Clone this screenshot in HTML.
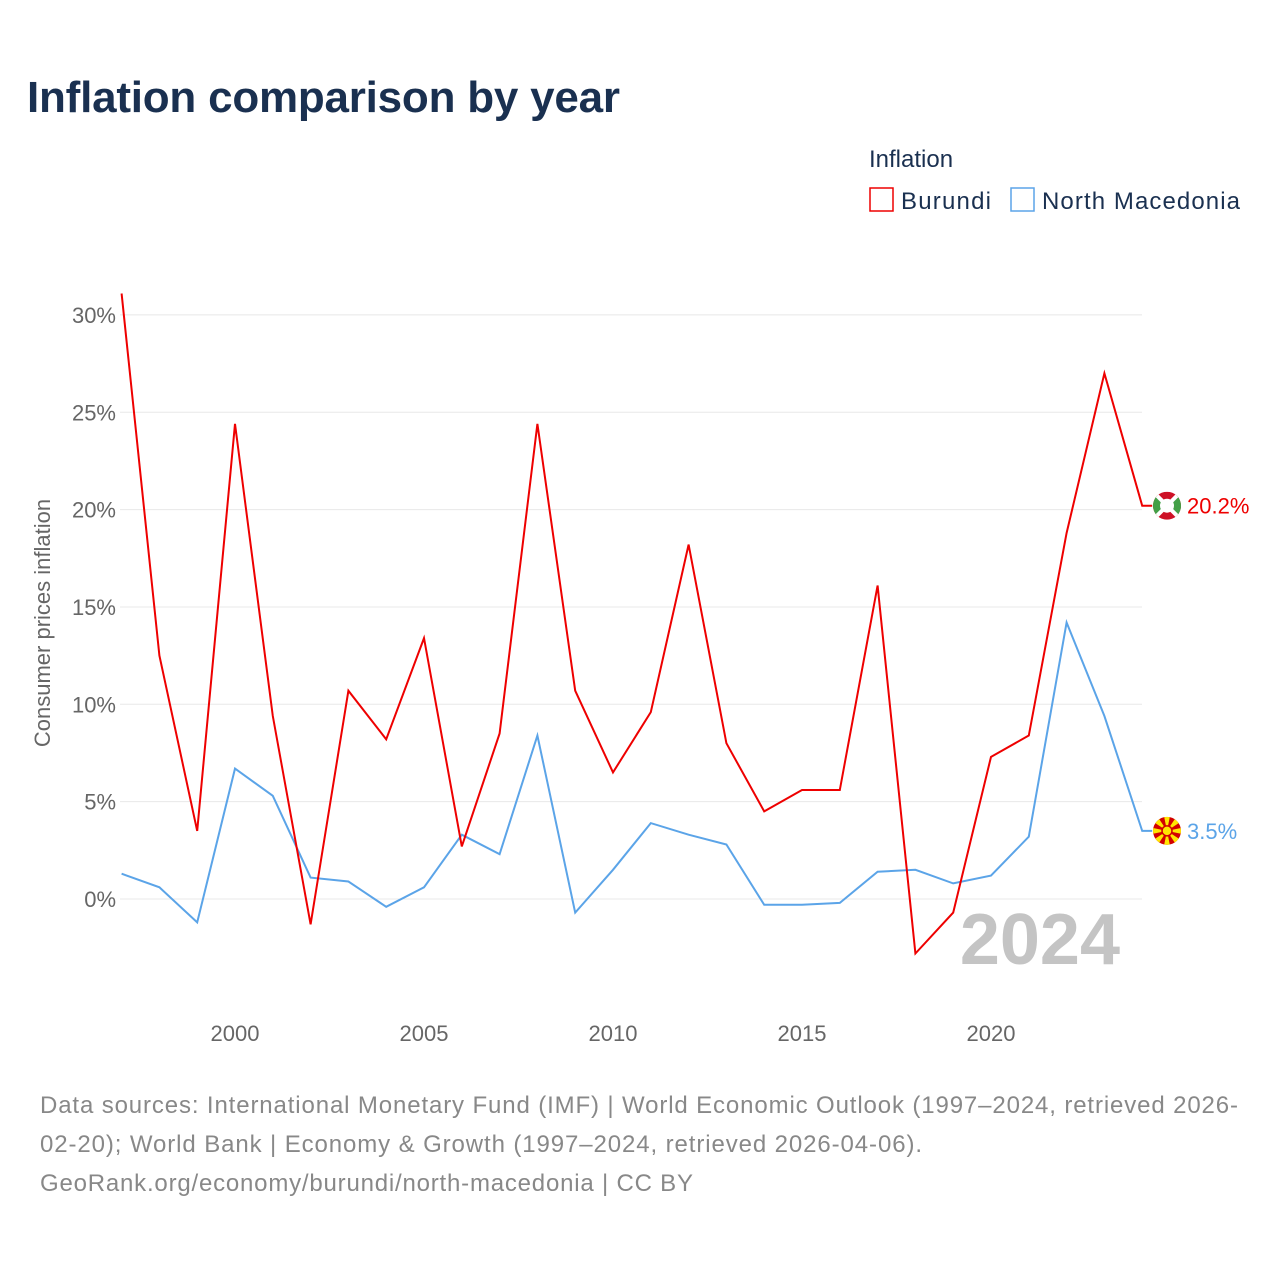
<!DOCTYPE html>
<html><head><meta charset="utf-8"><style>
body{margin:0;background:#fff;font-family:"Liberation Sans",sans-serif}
</style></head><body>
<svg width="1280" height="1280" xmlns="http://www.w3.org/2000/svg" font-family="Liberation Sans, sans-serif">
<text x="27" y="112" font-size="44" font-weight="bold" fill="#1a3050" textLength="593">Inflation comparison by year</text>
<text x="869" y="167" font-size="24" fill="#1a3050">Inflation</text>
<g><rect x="870" y="188" width="23" height="23" fill="none" stroke="#ee0000" stroke-width="1.5"/><text x="901" y="209" font-size="24" fill="#1a3050" textLength="90">Burundi</text></g>
<g><rect x="1011" y="188" width="23" height="23" fill="none" stroke="#5ba4e8" stroke-width="1.5"/><text x="1042" y="209" font-size="24" fill="#1a3050" textLength="198">North Macedonia</text></g>
<g id="grid"></g><g id="xt"></g>
<text transform="translate(50,623) rotate(-90)" text-anchor="middle" font-size="22" fill="#666">Consumer prices inflation</text>
<text x="1120" y="964" text-anchor="end" font-size="72" font-weight="bold" fill="#c4c4c4">2024</text>
<g id="series"></g>
<text x="40" y="1113" font-size="24" fill="#888" textLength="1198">Data sources: International Monetary Fund (IMF) | World Economic Outlook (1997–2024, retrieved 2026-</text>
<text x="40" y="1152" font-size="24" fill="#888" textLength="882">02-20); World Bank | Economy &amp; Growth (1997–2024, retrieved 2026-04-06).</text>
<text x="40" y="1191" font-size="24" fill="#888" textLength="653">GeoRank.org/economy/burundi/north-macedonia | CC BY</text>
</svg>
<script>
const years=[1997,1998,1999,2000,2001,2002,2003,2004,2005,2006,2007,2008,2009,2010,2011,2012,2013,2014,2015,2016,2017,2018,2019,2020,2021,2022,2023,2024];
const burundi=[31.1,12.5,3.5,24.4,9.4,-1.3,10.7,8.2,13.4,2.7,8.5,24.4,10.7,6.5,9.6,18.2,8.0,4.5,5.6,5.6,16.1,-2.8,-0.7,7.3,8.4,18.8,27.0,20.2];
const macedonia=[1.3,0.6,-1.2,6.7,5.3,1.1,0.9,-0.4,0.6,3.3,2.3,8.4,-0.7,1.5,3.9,3.3,2.8,-0.3,-0.3,-0.2,1.4,1.5,0.8,1.2,3.2,14.2,9.4,3.5];
const yTicks=[0,5,10,15,20,25,30];
const xTicks=[2000,2005,2010,2015,2020];
const NS="http://www.w3.org/2000/svg";
const X=y=>235+(y-2000)*37.8;
const Y=v=>899-v*19.47;
function mk(t,a,p){const e=document.createElementNS(NS,t);for(const k in a)e.setAttribute(k,a[k]);p.appendChild(e);return e;}
const g=document.getElementById('grid');
yTicks.forEach(v=>{
 const l=mk('line',{x1:120,x2:1142,y1:Y(v),y2:Y(v),stroke:'#e8e8e8','stroke-width':1},g);
 
 
 const t=mk('text',{x:116,y:Y(v)+8,'text-anchor':'end','font-size':22,fill:'#666'},g);
 t.textContent=v+'%';
 
 
});
const xt=document.getElementById('xt');
xTicks.forEach(v=>{
 const t=mk('text',{x:X(v),y:1041,'text-anchor':'middle','font-size':22,fill:'#666'},xt);
 t.textContent=v;
 
 
});
const s=document.getElementById('series');
function flag(cx,cy,name){
 const gg=mk('g',{},s);
 
 
 const id='clip-'+name;
 const cp=mk('clipPath',{id:id},gg);mk('circle',{cx:cx,cy:cy,r:14},cp);
 const inner=mk('g',{'clip-path':'url(#'+id+')'},gg);
 if(name==='burundi'){
  mk('rect',{x:cx-14,y:cy-14,width:28,height:28,fill:'#ce1126'},inner);
  mk('polygon',{points:`${cx-14},${cy-14} ${cx},${cy} ${cx-14},${cy+14}`,fill:'#43a047'},inner);
  mk('polygon',{points:`${cx+14},${cy-14} ${cx},${cy} ${cx+14},${cy+14}`,fill:'#43a047'},inner);
  mk('line',{x1:cx-14,y1:cy-14,x2:cx+14,y2:cy+14,stroke:'#fff','stroke-width':4},inner);
  mk('line',{x1:cx+14,y1:cy-14,x2:cx-14,y2:cy+14,stroke:'#fff','stroke-width':4},inner);
  mk('circle',{cx:cx,cy:cy,r:7,fill:'#fff'},inner);
 }else{
  mk('rect',{x:cx-14,y:cy-14,width:28,height:28,fill:'#d20000'},inner);
  for(let a=0;a<8;a++){const t=a*Math.PI/4;
   mk('polygon',{points:`${cx},${cy} ${cx+20*Math.cos(t-0.2)},${cy+20*Math.sin(t-0.2)} ${cx+20*Math.cos(t+0.2)},${cy+20*Math.sin(t+0.2)}`,fill:'#ffe600'},inner);}
  mk('circle',{cx:cx,cy:cy,r:5,fill:'#ffe600',stroke:'#d20000','stroke-width':1.5},inner);
 }
}
function draw(vals,color,name){
 const d=vals.map((v,i)=>(i?'L':'M')+X(years[i]).toFixed(1)+','+Y(v).toFixed(1)).join('')+'h10';
 const p=mk('path',{d:d,fill:'none',stroke:color,'stroke-width':2},s);
 
 
 const last=vals[vals.length-1];
 flag(1167,Y(last),name);
 const t=mk('text',{x:1187,y:Y(last)+8,'font-size':22,fill:color},s);
 t.textContent=last.toFixed(1)+'%';
 
 
}
draw(macedonia,'#5ba4e8','north-macedonia');
draw(burundi,'#ee0000','burundi');
</script>
</body></html>
